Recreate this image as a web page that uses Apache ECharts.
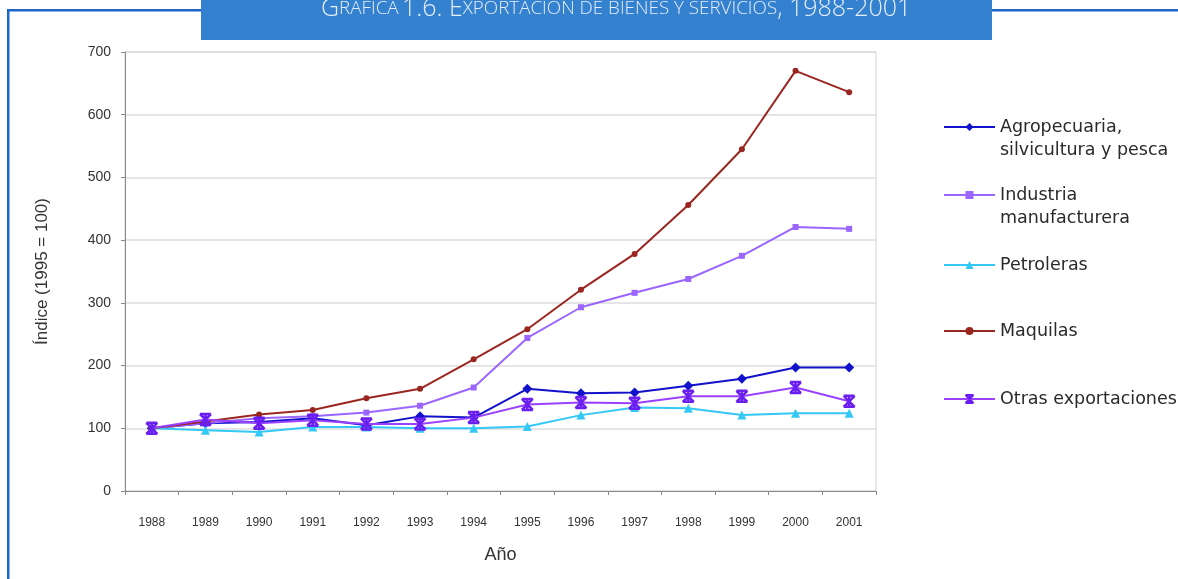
<!DOCTYPE html>
<html><head><meta charset="utf-8">
<script src="https://cdn.jsdelivr.net/npm/echarts@6/dist/echarts.min.js"></script>
<style>html,body{margin:0;padding:0;background:#fff}#c{width:1178px;height:579px}</style>
</head><body><div id="c"></div>
<script>
var years = ['1988','1989','1990','1991','1992','1993','1994','1995','1996','1997','1998','1999','2000','2001'];
var agropecuaria = [100,108,110,116,105,119,117,163,156,157,168,179,197,197];
var industria = [100,108,116,119,125,136,165,244,293,316,338,375,421,418];
var petroleras = [100,97,94,102,102,100,100,103,121,133,132,121,124,124];
var maquilas = [100,111,122,129,148,163,210,258,321,378,456,545,670,636];
var otras = [100,114,108,113,107,107,117,138,141,140,151,151,165,143];
var yTicks = [0,100,200,300,400,500,600,700];

var names = ['Agropecuaria,\nsilvicultura y pesca','Industria\nmanufacturera','Petroleras','Maquilas','Otras exportaciones'];
var colors = ['#1212cc','#9a66ff','#33c8f5','#9b2620','#8a2cf0'];
var legendCenters = [127, 195, 265, 331, 399];

var chart = echarts.init(document.getElementById('c'));
var font = '"Liberation Sans", Arial, sans-serif';

var legends = names.map(function(n, i){
  var two = n.indexOf('\n') >= 0;
  return {
    data: [n], left: 943, top: two ? legendCenters[i] - 34.5 : legendCenters[i] - 11.5,
    padding: 0,
    itemWidth: 51, itemHeight: 10, itemGap: 5, selectedMode: false,
    formatter: function(name){ return name.indexOf('\n') >= 0 ? ' \n' + name : name; },
    textStyle: {fontFamily: '"DejaVu Sans", sans-serif', fontSize: 17.5, color: '#2a2a2a', lineHeight: 23}
  };
});

function mk(i, data, symbol, size, extra){
  var s = {
    name: names[i], type: 'line', data: data, symbol: symbol, symbolSize: size,
    lineStyle: {color: colors[i], width: 2}, itemStyle: {color: colors[i]},
    animation: false, z: 2 + i
  };
  if (extra) Object.assign(s, extra);
  return s;
}

chart.setOption({
  animation: false,
  graphic: [
    {type: 'rect', shape: {x: 8, y: 9, width: 1170, height: 2.5}, style: {fill: '#1a66cc'}},
    {type: 'rect', shape: {x: 7, y: 9, width: 2.5, height: 570}, style: {fill: '#1a66cc'}},
    {type: 'rect', shape: {x: 201, y: 0, width: 791, height: 40}, style: {fill: '#3481cf'}, z: 10},
    {type: 'text', left: 321, top: -4, z: 11, style: {
      text: '{b|G}{s|RÁFICA} {b|1.6. E}{s|XPORTACIÓN DE BIENES Y SERVICIOS}{b|, 1988-2001}',
      rich: {
        b: {fontFamily: '"Open Sans", sans-serif', fontWeight: 300, fontSize: 25, fill: '#e6eefa'},
        s: {fontFamily: '"Open Sans", sans-serif', fontWeight: 300, fontSize: 18.8, fill: '#e6eefa'}
      }
    }}
  ],
  legend: legends,
  grid: {left: 125, right: 302, top: 52, bottom: 88, show: true, borderColor: '#d0d0d0', borderWidth: 1},
  xAxis: {
    type: 'category', data: years, boundaryGap: true,
    name: 'Año', nameLocation: 'middle', nameGap: 55,
    nameTextStyle: {fontFamily: font, fontSize: 18, color: '#333'},
    axisLine: {lineStyle: {color: '#8a8a8a', width: 1}},
    axisTick: {show: true, length: 4, lineStyle: {color: '#8a8a8a'}},
    axisLabel: {fontFamily: font, fontSize: 12, color: '#333', margin: 26}
  },
  yAxis: {
    type: 'value', min: 0, max: 700, interval: 100,
    name: 'Índice (1995 = 100)', nameLocation: 'middle', nameGap: 74,
    nameTextStyle: {fontFamily: font, fontSize: 17, color: '#333'},
    axisLine: {show: true, lineStyle: {color: '#8a8a8a'}},
    axisTick: {show: true, length: 4, lineStyle: {color: '#8a8a8a'}},
    axisLabel: {fontFamily: font, fontSize: 14, color: '#333', margin: 14,
      formatter: function(v){ return yTicks.indexOf(v) >= 0 ? String(v) : ''; }},
    splitLine: {lineStyle: {color: '#dcdcdc', width: 1.5}}
  },
  series: [
    mk(0, agropecuaria, 'diamond', 10),
    mk(1, industria, 'rect', 6),
    mk(2, petroleras, 'triangle', 9),
    mk(3, maquilas, 'circle', 6),
    mk(4, otras, 'path://M0,0 L10,10 M10,0 L0,10 M5,0 L5,10 M0,0 L10,0 M0,10 L10,10', 11,
      {itemStyle: {color: 'rgba(0,0,0,0)', borderColor: '#6a1ef0', borderWidth: 2.5}, lineStyle: {color: '#9a40ff', width: 2}})
  ]
});
</script></body></html>
